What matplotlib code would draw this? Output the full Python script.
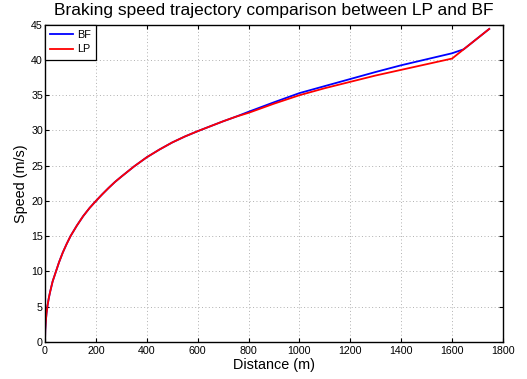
import matplotlib
matplotlib.use("Agg")
import matplotlib.pyplot as plt

# shared braking curve, low-speed part (both methods overlap here)
dist_common = [0, 1, 3, 6, 10, 15, 20, 30, 43, 55, 70, 85, 100, 125, 150, 175, 200,
               225, 250, 275, 300, 350, 400, 450, 500, 550, 600, 650, 700, 750]
speed_common = [0, 1.7, 2.9, 4.1, 5.2, 6.25, 7.1, 8.6, 10.0, 11.3, 12.7, 13.9, 15.0,
                16.5, 17.85, 19.0, 20.0, 20.95, 21.85, 22.7, 23.45, 24.9, 26.2, 27.3,
                28.3, 29.15, 29.9, 30.6, 31.3, 31.95]

# upper part where BF and LP separate
dist_bf = [800, 900, 1000, 1100, 1200, 1300, 1400, 1500, 1600, 1620, 1645, 1746]
speed_bf = [32.65, 34.0, 35.3, 36.3, 37.3, 38.3, 39.25, 40.1, 40.95, 41.2, 41.5, 44.4]

dist_lp = [800, 900, 1000, 1100, 1200, 1300, 1400, 1500, 1600, 1746]
speed_lp = [32.5, 33.8, 35.0, 36.0, 36.9, 37.8, 38.6, 39.4, 40.2, 44.4]

x_ticks = [0, 200, 400, 600, 800, 1000, 1200, 1400, 1600, 1800]
y_ticks = [0, 5, 10, 15, 20, 25, 30, 35, 40, 45]

plt.rcParams["font.family"] = ["Liberation Sans", "DejaVu Sans"]

fig = plt.figure(figsize=(5.27, 3.79), dpi=100)
ax = fig.add_axes([0.0854, 0.0976, 0.8690, 0.8372])

ax.plot(dist_common + dist_bf, speed_common + speed_bf, color="#0000ff", lw=1.3, label="BF")
ax.plot(dist_common + dist_lp, speed_common + speed_lp, color="#ff0000", lw=1.3, label="LP")

ax.set_xlim(0, 1800)
ax.set_ylim(0, 45)
ax.set_xticks(x_ticks)
ax.set_yticks(y_ticks)
ax.tick_params(direction="in", length=3, width=0.8, labelsize=7.7,
               top=True, right=True)
ax.tick_params(axis="y", pad=1.5)
ax.tick_params(axis="x", pad=3)
for s in ax.spines.values():
    s.set_linewidth(1.0)

ax.grid(True, linestyle=(0, (1, 2.5)), color="#b0b0b0", linewidth=0.7)

ax.set_title("Braking speed trajectory comparison between LP and BF",
             fontsize=12.5, pad=7)
ax.set_xlabel("Distance (m)", fontsize=10.4, labelpad=1)
ax.set_ylabel("Speed (m/s)", fontsize=10.4, labelpad=2)

leg = ax.legend(loc="upper left", borderaxespad=0, fontsize=7.8,
                fancybox=False, framealpha=1, edgecolor="black",
                handlelength=2.1, handletextpad=0.32, labelspacing=0.4,
                borderpad=0.5)
leg.get_frame().set_linewidth(0.9)

fig.savefig("out.png", dpi=100)
